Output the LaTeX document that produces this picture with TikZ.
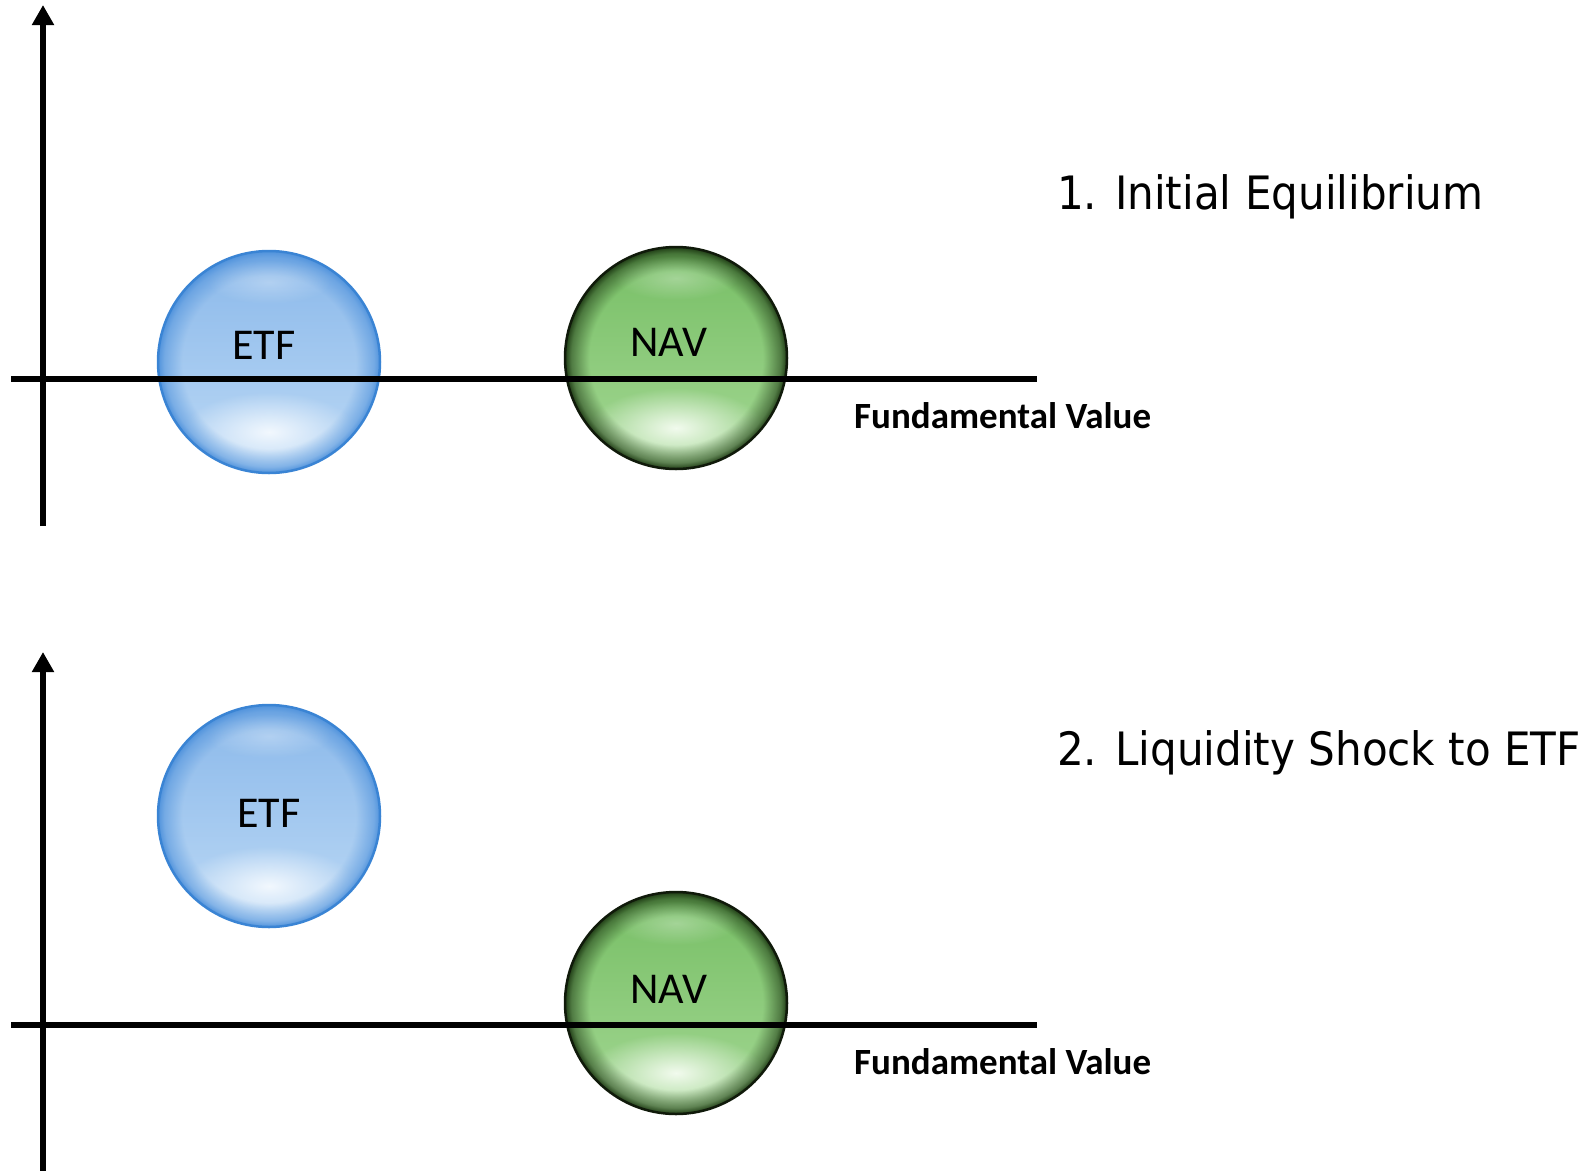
\documentclass[tikz,border=0pt]{standalone}
\usepackage{fontspec}
\setmainfont{Carlito}
\newfontfamily\titlefont{DejaVu Sans}
\usetikzlibrary{arrows.meta,fadings}

\definecolor{btop}{HTML}{8AB8EA}
\definecolor{bmid}{HTML}{7DAFE7}
\definecolor{bbot}{HTML}{BCD9F5}
\definecolor{bglow}{HTML}{F2F8FE}
\definecolor{brim}{HTML}{4F92DC}
\definecolor{bedge}{HTML}{3A84D4}

\definecolor{gtop}{HTML}{76BE64}
\definecolor{gmid}{HTML}{549544}
\definecolor{gbot}{HTML}{A4D894}
\definecolor{gglow}{HTML}{F2FBEE}
\definecolor{grim}{HTML}{1E3A14}
\definecolor{gedge}{HTML}{101A0A}

\pgfdeclareradialshading{rimfadeshade}{\pgfpointorigin}{%
  color(0bp)=(pgftransparent!100); color(19.5bp)=(pgftransparent!100);
  color(23.5bp)=(pgftransparent!45); color(25bp)=(pgftransparent!0);
  color(50bp)=(pgftransparent!0)}
\pgfdeclarefading{rimfade}{\pgfuseshading{rimfadeshade}}
\tikzfading[name=softglow, inner color=transparent!0, outer color=transparent!100]

\tikzset{
  axisline/.style={line width=6pt, black},
  axisarrow/.style={axisline, -{Triangle[length=20pt, width=21pt]}},
  ball/.style={circle, inner sep=0pt, minimum size=222pt, draw=#1edge, line width=2.5pt},
  balltext/.style={font=\fontsize{44}{50}\selectfont, inner sep=0pt, anchor=base},
  fvtext/.style={font=\fontsize{37}{42}\selectfont\bfseries, inner sep=0pt, anchor=base west},
  titletext/.style={font=\titlefont\fontsize{46}{54}\selectfont, inner sep=0pt, anchor=base west},
}

% #1 x, #2 y, #3 colour prefix, #4 node name
\newcommand\glassball[4]{%
  \begin{scope}
    \clip (#1,#2) circle (111pt);
    \shade[top color=#3top, middle color=#3mid, bottom color=#3bot] (#1,#2) circle (111pt);
    \fill[#3glow, path fading=softglow] (#1,#2+70) ellipse (88pt and 40pt);
    \fill[#3rim, path fading=rimfade] (#1,#2) circle (111pt);
    \fill[white, fill opacity=0.3, path fading=softglow] (#1,#2-80) ellipse (62pt and 22pt);
  \end{scope}
  \node[ball=#3] (#4) at (#1,#2) {};
}

\begin{document}
\begin{tikzpicture}[x=1pt, y=-1pt]
\useasboundingbox (0,0) rectangle (1589,1170);

% ---- panel 1 ----
\glassball{269}{362}{b}{etfA}
\glassball{676}{358}{g}{navA}
\coordinate (yA0) at (43,526);
\coordinate (yA1) at (43,5);
\coordinate (xA0) at (11,379);
\coordinate (xA1) at (1037,379);
\draw[axisarrow] (yA0) -- (yA1);
\draw[axisline] (xA0) -- (xA1);
\node[balltext] (etfAt) at (264,359) {ETF};
\node[balltext] (navAt) at (669,356) {NAV};
\node[fvtext] (fvA) at (854,428) {Fundamental Value};
\node[titletext] (titleA) at (1057,209) {\scalebox{0.915}[1]{1. Initial Equilibrium}};

% ---- panel 2 ----
\glassball{269}{816}{b}{etfB}
\glassball{676}{1003}{g}{navB}
\coordinate (yB0) at (43,1172);
\coordinate (yB1) at (43,652);
\coordinate (xB0) at (11,1025);
\coordinate (xB1) at (1037,1025);
\draw[axisarrow] (yB0) -- (yB1);
\draw[axisline] (xB0) -- (xB1);
\node[balltext] (etfBt) at (269,827) {ETF};
\node[balltext] (navBt) at (669,1003) {NAV};
\node[fvtext] (fvB) at (854,1074) {Fundamental Value};
\node[titletext] (titleB) at (1057,765) {\scalebox{0.915}[1]{2. Liquidity Shock to ETF}};
\end{tikzpicture}
\end{document}
